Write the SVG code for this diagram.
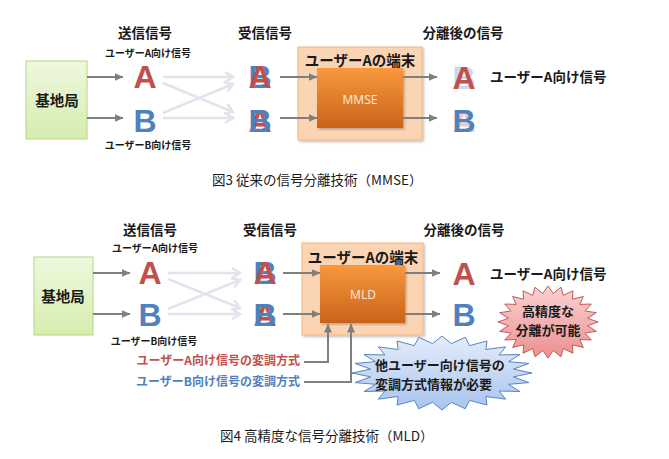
<svg xmlns="http://www.w3.org/2000/svg" width="669" height="459" viewBox="0 0 669 459">
<defs>
<linearGradient id="gGreen" x1="0" y1="0" x2="0" y2="1"><stop offset="0" stop-color="#eff8de"/><stop offset="1" stop-color="#d5edae"/></linearGradient>
<linearGradient id="gOrange" x1="0" y1="0" x2="0" y2="1"><stop offset="0" stop-color="#f9983c"/><stop offset="1" stop-color="#c9631b"/></linearGradient>
<linearGradient id="gBlue" x1="0" y1="0" x2="0" y2="1"><stop offset="0" stop-color="#e4edfa"/><stop offset="1" stop-color="#a8c4ee"/></linearGradient>
<linearGradient id="gRed" x1="0" y1="0" x2="0" y2="1"><stop offset="0" stop-color="#fbd3d3"/><stop offset="1" stop-color="#ec8f8f"/></linearGradient>
<marker id="ah" markerUnits="userSpaceOnUse" markerWidth="9" markerHeight="8" refX="8.5" refY="4" orient="auto"><path d="M0,0 L9,4 L0,8 z" fill="#7f7f7f"/></marker>
<marker id="ahPale" markerUnits="userSpaceOnUse" markerWidth="11" markerHeight="12" refX="9" refY="6" orient="auto"><path d="M1,1 L9,6 L1,11" fill="none" stroke="#e3e3ee" stroke-width="2.5"/></marker>
<polygon id="burst" vector-effect="non-scaling-stroke" points="100,0 79.31,10.44 96.59,25.88 73.91,30.61 86.6,50 63.47,48.7 70.71,70.71 48.7,63.47 50,86.6 30.61,73.91 25.88,96.59 10.44,79.31 0,100 -10.44,79.31 -25.88,96.59 -30.61,73.91 -50,86.6 -48.7,63.47 -70.71,70.71 -63.47,48.7 -86.6,50 -73.91,30.61 -96.59,25.88 -79.31,10.44 -100,0 -79.31,-10.44 -96.59,-25.88 -73.91,-30.61 -86.6,-50 -63.47,-48.7 -70.71,-70.71 -48.7,-63.47 -50,-86.6 -30.61,-73.91 -25.88,-96.59 -10.44,-79.31 0,-100 10.44,-79.31 25.88,-96.59 30.61,-73.91 50,-86.6 48.7,-63.47 70.71,-70.71 63.47,-48.7 86.6,-50 73.91,-30.61 96.59,-25.88 79.31,-10.44"/>
<filter id="sh" x="-10%" y="-10%" width="125%" height="125%"><feDropShadow dx="1.5" dy="1.5" stdDeviation="1.2" flood-color="#000" flood-opacity="0.25"/></filter>
</defs>
<style>
.t{font-family:"Noto Sans CJK JP","Noto Sans",sans-serif;fill:#1a1a1a}
.h{font-size:13.5px;font-weight:bold;text-anchor:middle}
.s{font-size:10px;font-weight:bold;text-anchor:middle}
.lab{font-size:13.5px;font-weight:bold}
.cap{font-size:13.5px}
.big{font-family:"Liberation Sans",Arial,sans-serif;font-size:32px;font-weight:bold;text-anchor:middle}
.ra{fill:#c0504d}
.bb{fill:#4f81bd}
.arr{stroke:#7f7f7f;stroke-width:2;fill:none;marker-end:url(#ah)}
.pale{stroke:#e3e3ee;stroke-width:2.5;fill:none;marker-end:url(#ahPale)}
.bs{fill:url(#gGreen);stroke:#b2d689;stroke-width:1}
.term{fill:#fbd4b3;stroke:#f2b57f;stroke-width:1}
.proc{fill:url(#gOrange)}
.ptxt{font-family:"Noto Sans","Noto Sans CJK JP",sans-serif;font-size:12px;fill:#fde6d2;text-anchor:middle}
.bt{font-size:13px;font-weight:bold}
</style>
<rect width="669" height="459" fill="#ffffff"/>

<!-- ===== Figure 3 ===== -->
<g id="fig3-headers">
<text class="t h" x="145" y="38">送信信号</text>
<text class="t h" x="265" y="38">受信信号</text>
<text class="t h" x="463" y="38">分離後の信号</text>
<text class="t s" x="148" y="57">ユーザーA向け信号</text>
<text class="t s" x="148" y="149">ユーザーB向け信号</text>
</g>
<g id="fig3-base-station">
<rect class="bs" x="26" y="61" width="61" height="78"/>
<text class="t" x="57" y="106" font-size="14.5" font-weight="bold" text-anchor="middle">基地局</text>
</g>
<g id="fig3-tx-A"><text class="big ra" x="145" y="88">A</text></g>
<g id="fig3-tx-B"><text class="big bb" x="145" y="132">B</text></g>
<g id="fig3-rx-1"><text class="big bb" x="260" y="88">B</text><text class="big ra" x="260" y="88">A</text></g>
<g id="fig3-rx-2"><text class="big ra" x="260" y="132">A</text><text class="big bb" x="260" y="132">B</text></g>
<g id="fig3-terminal">
<rect class="term" x="298" y="47" width="124" height="93" filter="url(#sh)"/>
<text class="t" x="360" y="66" font-size="14.5" font-weight="bold" text-anchor="middle">ユーザーAの端末</text>
</g>
<g id="fig3-mmse">
<rect class="proc" x="317" y="68" width="86" height="60" filter="url(#sh)"/>
<text class="ptxt" x="360" y="104">MMSE</text>
</g>
<g id="fig3-out-A"><text class="big bb" x="464" y="89" opacity="0.3">B</text><text class="big ra" x="464" y="89">A</text></g>
<g id="fig3-out-B"><text class="big ra" x="464" y="132" opacity="0.3">A</text><text class="big bb" x="464" y="132">B</text></g>
<g id="fig3-out-label"><text class="t lab" x="490" y="82">ユーザーA向け信号</text></g>
<g id="fig3-connectors">
<line class="arr" x1="87" y1="77" x2="123" y2="77"/>
<line class="arr" x1="87" y1="118" x2="123" y2="118"/>
<line class="pale" x1="163" y1="77" x2="233" y2="77"/>
<line class="pale" x1="163" y1="118" x2="233" y2="118"/>
<line class="pale" x1="163" y1="83" x2="233" y2="112"/>
<line class="pale" x1="163" y1="113" x2="233" y2="84"/>
<line class="arr" x1="280" y1="77" x2="317" y2="77"/>
<line class="arr" x1="280" y1="118" x2="317" y2="118"/>
<line class="arr" x1="403" y1="77" x2="437" y2="77"/>
<line class="arr" x1="403" y1="118" x2="437" y2="118"/>
</g>
<text class="t cap" x="212" y="185">図3 従来の信号分離技術（MMSE）</text>

<!-- ===== Figure 4 ===== -->
<g id="fig4-headers">
<text class="t h" x="150" y="235">送信信号</text>
<text class="t h" x="270" y="235">受信信号</text>
<text class="t h" x="464" y="235">分離後の信号</text>
<text class="t s" x="155" y="252">ユーザーA向け信号</text>
<text class="t s" x="154" y="345">ユーザーB向け信号</text>
</g>
<g id="fig4-base-station">
<rect class="bs" x="34" y="257" width="59" height="78"/>
<text class="t" x="63" y="302" font-size="14.5" font-weight="bold" text-anchor="middle">基地局</text>
</g>
<g id="fig4-tx-A"><text class="big ra" x="150" y="284">A</text></g>
<g id="fig4-tx-B"><text class="big bb" x="150" y="326">B</text></g>
<g id="fig4-rx-1"><text class="big bb" x="265" y="284">B</text><text class="big ra" x="265" y="284">A</text></g>
<g id="fig4-rx-2"><text class="big ra" x="265" y="326">A</text><text class="big bb" x="265" y="326">B</text></g>
<g id="fig4-terminal">
<rect class="term" x="302" y="243" width="121" height="92" filter="url(#sh)"/>
<text class="t" x="363" y="263" font-size="14.5" font-weight="bold" text-anchor="middle">ユーザーAの端末</text>
</g>
<g id="fig4-mld">
<rect class="proc" x="320" y="265" width="85" height="58" filter="url(#sh)"/>
<text class="ptxt" x="363" y="299">MLD</text>
</g>
<g id="fig4-out-A"><text class="big ra" x="464" y="285">A</text></g>
<g id="fig4-out-B"><text class="big bb" x="464" y="326">B</text></g>
<g id="fig4-out-label"><text class="t lab" x="490" y="279">ユーザーA向け信号</text></g>
<g id="fig4-mod-A"><text class="t" x="300" y="365" font-size="12" font-weight="bold" text-anchor="end" style="fill:#c0504d">ユーザーA向け信号の変調方式</text></g>
<g id="fig4-mod-B"><text class="t" x="300" y="386" font-size="12" font-weight="bold" text-anchor="end" style="fill:#4f81bd">ユーザーB向け信号の変調方式</text></g>
<g id="fig4-burst-high">
<use href="#burst" transform="translate(548 322) scale(0.5 0.36)" fill="url(#gRed)" stroke="#c45a5a" stroke-width="1"/>
<text class="t bt" x="548" y="316" text-anchor="middle">高精度な</text>
<text class="t bt" x="548" y="335" text-anchor="middle">分離が可能</text>
</g>
<g id="fig4-burst-info">
<use href="#burst" transform="translate(442 373) scale(0.9 0.37)" fill="url(#gBlue)" stroke="#5a84bf" stroke-width="1"/>
<text class="t bt" x="375" y="370">他ユーザー向け信号の</text>
<text class="t bt" x="375" y="389">変調方式情報が必要</text>
</g>
<g id="fig4-connectors">
<line class="arr" x1="93" y1="273" x2="130" y2="273"/>
<line class="arr" x1="93" y1="314" x2="130" y2="314"/>
<line class="pale" x1="168" y1="273" x2="240" y2="273"/>
<line class="pale" x1="168" y1="314" x2="240" y2="314"/>
<line class="pale" x1="168" y1="279" x2="240" y2="308"/>
<line class="pale" x1="168" y1="309" x2="240" y2="280"/>
<line class="arr" x1="283" y1="273" x2="320" y2="273"/>
<line class="arr" x1="283" y1="314" x2="320" y2="314"/>
<line class="arr" x1="405" y1="273" x2="440" y2="273"/>
<line class="arr" x1="405" y1="314" x2="440" y2="314"/>
<polyline class="arr" points="304,362 328,362 328,324"/>
<polyline class="arr" points="304,382 351,382 351,324"/>
</g>
<text class="t cap" x="220" y="441">図4 高精度な信号分離技術（MLD）</text>
</svg>
